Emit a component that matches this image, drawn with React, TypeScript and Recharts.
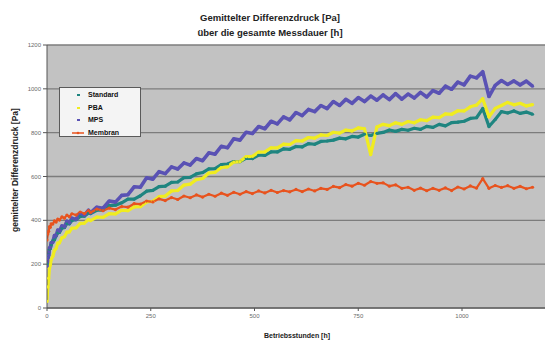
import React from 'react';
import { LineChart, Line, XAxis, YAxis, CartesianGrid, Legend } from 'recharts';

const hours = [0,2,4,6,8,10,14,18,22,26,30,36,42,48,54,60,70,80,90,100,105,120,135,150,165,180,195,210,225,240,255,270,285,300,315,330,345,360,375,390,405,420,435,450,465,480,495,510,525,540,555,570,585,600,615,630,645,660,675,690,705,720,735,750,765,780,795,810,825,840,855,870,885,900,915,930,945,960,975,990,1005,1020,1035,1050,1065,1080,1095,1110,1125,1140,1155,1170];

const standard = [200,229,242,268,271,287,306,311,330,343,345,364,367,386,384,399,403,418,419,434,431,446,447,467,469,480,497,497,512,533,537,554,556,573,575,595,596,612,618,635,636,654,657,668,668,684,682,698,696,712,712,726,724,737,735,750,747,760,762,766,775,772,783,780,793,787,797,801,812,806,815,811,820,815,829,824,838,831,846,848,852,865,868,910,828,860,896,890,899,888,894,884];

const pba = [30,96,136,181,196,221,236,263,272,296,297,321,325,346,347,364,366,386,387,404,399,415,414,431,429,446,444,461,462,484,487,508,511,534,536,561,565,586,591,616,619,641,644,666,668,691,692,711,712,731,731,748,746,764,762,778,775,790,787,802,798,812,808,822,818,700,826,838,832,845,838,851,845,859,855,871,869,886,884,900,899,918,926,955,872,911,924,938,927,934,922,928];

const mps = [190,226,240,274,276,298,300,331,330,356,350,375,370,396,388,410,404,431,423,446,434,460,455,488,483,514,517,553,551,594,588,622,613,644,634,662,652,682,672,708,702,738,731,772,766,802,796,828,818,852,840,872,858,892,878,906,896,924,910,942,924,952,934,960,942,967,948,972,951,978,953,976,958,984,963,992,980,1012,998,1031,1018,1058,1050,1078,965,1016,1038,1020,1036,1018,1035,1012];

const membran = [310,338,350,371,368,384,383,398,392,406,401,416,410,424,416,430,424,438,431,444,436,451,444,456,449,463,460,476,474,488,484,498,490,504,495,511,503,516,506,519,510,524,514,528,519,531,522,534,525,537,527,536,530,541,531,543,534,546,541,555,549,563,556,569,560,577,569,571,556,562,546,551,537,547,535,546,537,548,536,552,543,557,547,590,546,559,550,558,546,555,544,551];

const xTicks = [0, 250, 500, 750, 1000];
const yTicks = [0, 200, 400, 600, 800, 1000, 1200];

const seriesNames = ['Standard', 'PBA', 'MPS', 'Membran'];
const seriesKeys = ['std', 'pba', 'mps', 'mem'];
const seriesColors = ['#1f8580', '#f0ec20', '#5a52b4', '#e8531e'];
const seriesWidths = [3.2, 3.2, 3.6, 2.2];

const data = hours.map((h, i) => ({
  h,
  std: standard[i],
  pba: pba[i],
  mps: mps[i],
  mem: membran[i],
}));

const FONT = '"Liberation Sans", Arial, sans-serif';

const renderLegend = () => (
  <div
    style={{
      width: 82,
      height: 50,
      background: '#f4f4f4',
      border: '1px solid #5a5a5a',
      boxSizing: 'border-box',
      fontFamily: FONT,
      fontSize: 7,
      fontWeight: 'bold',
      color: '#111',
      paddingTop: 1,
    }}
  >
    {seriesNames.map((name, i) => (
      <div key={name} style={{ height: 12.5, display: 'flex', alignItems: 'center' }}>
        <svg width={28} height={8} style={{ flex: 'none' }}>
          {i === 3 ? (
            <>
              <line x1={12} y1={4} x2={24} y2={4} stroke={seriesColors[i]} strokeWidth={1.5} />
              <circle cx={18} cy={4} r={1.3} fill={seriesColors[i]} />
            </>
          ) : (
            <rect x={17} y={3} width={3} height={2} fill={seriesColors[i]} />
          )}
        </svg>
        <span style={{ lineHeight: '8px' }}>{name}</span>
      </div>
    ))}
  </div>
);

export default function App() {
  return (
    <div
      style={{
        position: 'absolute',
        left: 0,
        top: 0,
        width: 545,
        height: 340,
        background: '#ffffff',
        overflow: 'hidden',
        fontFamily: FONT,
      }}
    >
      <LineChart
        width={545}
        height={340}
        data={data}
        margin={{ top: 45, right: 0, bottom: 0, left: 0 }}
      >
        <CartesianGrid vertical={false} fill="#c2c2c2" stroke="#7c7c7c" strokeWidth={1.3} />
        <XAxis
          type="number"
          dataKey="h"
          domain={[0, 1200]}
          ticks={xTicks}
          height={32}
          tickSize={3}
          tickMargin={3}
          stroke="#555"
          tick={{ fontSize: 6, fill: '#6a6a6a', fontFamily: FONT }}
          allowDataOverflow
        />
        <YAxis
          type="number"
          domain={[0, 1200]}
          ticks={yTicks}
          width={47}
          tickSize={4}
          tickMargin={2}
          stroke="#555"
          tick={{ fontSize: 6, fill: '#6a6a6a', fontFamily: FONT }}
        />
        {seriesKeys.map((k, i) => (
          <Line
            key={k}
            dataKey={k}
            name={seriesNames[i]}
            type="linear"
            stroke={seriesColors[i]}
            strokeWidth={seriesWidths[i]}
            strokeLinejoin="round"
            dot={{ r: 1.6, fill: seriesColors[i], stroke: 'none' }}
            isAnimationActive={false}
          />
        ))}
        <Legend
          layout="vertical"
          align="center"
          verticalAlign="middle"
          content={renderLegend}
          wrapperStyle={{ position: 'absolute', left: 59, top: 87, width: 82, height: 50 }}
        />
      </LineChart>

      <div
        style={{
          position: 'absolute',
          left: 0,
          width: 540,
          top: 10,
          textAlign: 'center',
          fontSize: 9.5,
          fontWeight: 'bold',
          lineHeight: '15px',
          color: '#222',
        }}
      >
        <div>Gemittelter Differenzdruck [Pa]</div>
        <div>über die gesamte Messdauer [h]</div>
      </div>

      <div
        style={{
          position: 'absolute',
          left: 15,
          top: 170,
          transform: 'translate(-50%, -50%) rotate(-90deg)',
          whiteSpace: 'nowrap',
          fontSize: 8.5,
          fontWeight: 'bold',
          color: '#222',
        }}
      >
        gemittelter Differenzdruck [Pa]
      </div>

      <div
        style={{
          position: 'absolute',
          left: 297,
          top: 335,
          transform: 'translate(-50%, -50%)',
          whiteSpace: 'nowrap',
          fontSize: 7,
          fontWeight: 'bold',
          color: '#222',
        }}
      >
        Betriebsstunden [h]
      </div>
    </div>
  );
}
